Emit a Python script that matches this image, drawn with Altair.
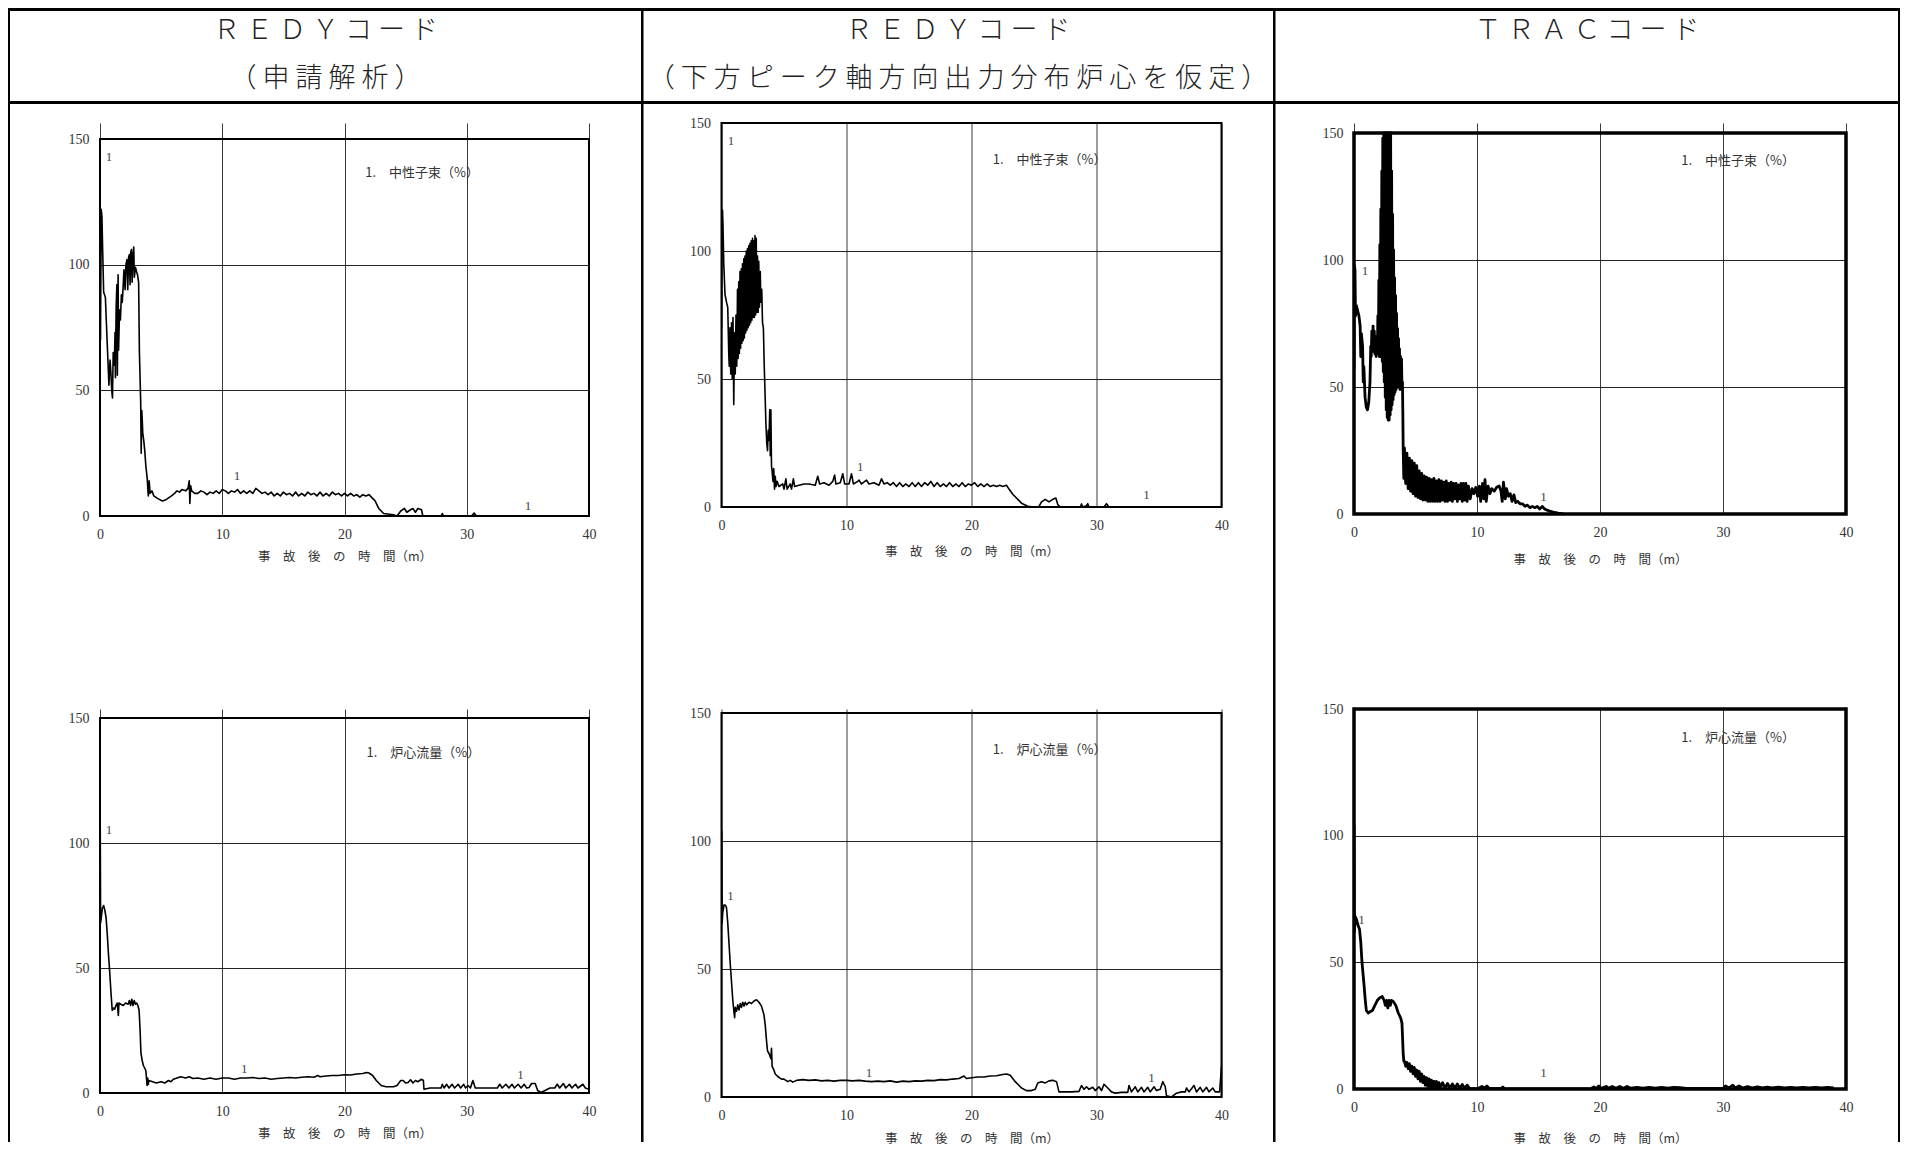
import altair as alt
import pandas as pd

# ---------------- text ----------------
HEADER_COLS = [
    ["ＲＥＤＹコード", "（申請解析）"],
    ["ＲＥＤＹコード", "（下方ピーク軸方向出力分布炉心を仮定）"],
    ["ＴＲＡＣコード"],
]
X_TITLE = "事　故　後　の　時　間（m）"
X_TICKS = [0, 10, 20, 30, 40]
Y_TICKS = [0, 50, 100, 150]
LEGEND_FLUX = "1.　中性子束（%）"
LEGEND_FLOW = "1.　炉心流量（%）"

# ---------------- data (time [min], value [%]) ----------------
REDY_A_FLUX = [
    (0, 100), (0.04, 70), (0.1, 122), (0.16, 119), (0.22, 105), (0.3, 89), (0.44, 87), (0.58, 70),
    (0.73, 52), (0.82, 62), (0.88, 58), (0.96, 50), (1.02, 47), (1.08, 65), (1.17, 60), (1.23, 73),
    (1.26, 55), (1.32, 83), (1.38, 92), (1.42, 56), (1.48, 96), (1.52, 66), (1.6, 82), (1.67, 78),
    (1.75, 88), (1.82, 85), (1.9, 92), (1.96, 98), (2.05, 90), (2.12, 100), (2.2, 102), (2.27, 90),
    (2.34, 103), (2.4, 104), (2.46, 92), (2.52, 105), (2.57, 106), (2.63, 93), (2.7, 104), (2.76, 107),
    (2.81, 95), (2.9, 99), (3.0, 97), (3.07, 96), (3.16, 93), (3.22, 66), (3.33, 45), (3.37, 25),
    (3.42, 42), (3.5, 33), (3.58, 30), (3.66, 26), (3.75, 20), (3.86, 15), (3.95, 8), (4.02, 14),
    (4.1, 9), (4.25, 10), (4.4, 8), (4.7, 7), (5.1, 6), (5.4, 6.5), (5.85, 8), (6.1, 9), (6.3, 10),
    (6.5, 9.5), (6.7, 10.5), (7.0, 10), (7.2, 11), (7.3, 14), (7.35, 5), (7.42, 12), (7.5, 10),
    (7.75, 9), (8.0, 9), (8.25, 10), (8.5, 9.5), (8.75, 8.5), (9.0, 9.5), (9.25, 9), (9.5, 10),
    (9.75, 9), (10.0, 10.5), (10.25, 10), (10.5, 9), (10.75, 10), (11.0, 9.5), (11.25, 10.5),
    (11.5, 9), (11.75, 10), (12.0, 9), (12.25, 10), (12.5, 9), (12.75, 11), (13.0, 10), (13.25, 9),
    (13.5, 9.5), (13.75, 8.5), (14.0, 9.5), (14.25, 8), (14.5, 9), (14.75, 8), (15.0, 9.5),
    (15.25, 8.5), (15.5, 9), (15.75, 8), (16.0, 9.5), (16.25, 8), (16.5, 9), (16.75, 8), (17.0, 9.5),
    (17.25, 8.5), (17.5, 9), (17.75, 8), (18.0, 9.5), (18.25, 8), (18.5, 9), (18.75, 8), (19.0, 9.5),
    (19.25, 8.5), (19.5, 9), (19.75, 8), (20.0, 9), (20.25, 8), (20.5, 9), (20.75, 8), (21.0, 8.5),
    (21.25, 7.5), (21.5, 8.5), (21.75, 8), (22.0, 8.5), (22.2, 7.5), (22.5, 6), (22.8, 3), (23.2, 1),
    (24.0, 0.5), (24.3, 0), (24.6, 2), (24.9, 3), (25.1, 1.5), (25.4, 2.5), (25.6, 3), (25.8, 1.5),
    (26.0, 3), (26.3, 2.5), (26.4, 0.2), (26.5, 0), (27.9, 0), (28.0, 1), (28.1, 0), (30.4, 0),
    (30.6, 1.2), (30.8, 0),
]

REDY_B_FLUX = [
    (0, 70), (0.03, 100), (0.08, 116), (0.12, 110), (0.18, 95), (0.28, 83), (0.4, 80), (0.5, 78),
    (0.58, 60), (0.62, 55), (0.68, 70), (0.74, 52), (0.8, 72), (0.86, 50), (0.92, 74), (0.98, 40),
    (1.04, 68), (1.1, 52), (1.16, 75), (1.22, 55), (1.28, 85), (1.33, 58), (1.38, 88), (1.43, 60),
    (1.48, 92), (1.53, 62), (1.58, 93), (1.63, 64), (1.68, 95), (1.73, 65), (1.78, 97), (1.83, 66),
    (1.88, 98), (1.93, 68), (1.98, 100), (2.03, 69), (2.08, 101), (2.13, 70), (2.18, 102), (2.23, 71),
    (2.28, 103), (2.33, 72), (2.38, 104), (2.43, 73), (2.48, 105), (2.53, 74), (2.58, 104), (2.63, 74),
    (2.68, 106), (2.73, 75), (2.78, 105), (2.83, 76), (2.88, 98), (2.93, 76), (2.98, 96), (3.03, 78),
    (3.1, 92), (3.15, 80), (3.22, 85), (3.28, 72), (3.35, 70), (3.42, 55), (3.48, 45), (3.55, 33),
    (3.62, 25), (3.68, 22), (3.74, 30), (3.8, 26), (3.86, 38), (3.9, 20), (3.95, 38), (4.0, 16),
    (4.05, 14), (4.12, 10), (4.18, 15), (4.24, 7), (4.3, 12), (4.36, 8), (4.45, 10), (4.6, 8),
    (4.9, 9), (5.0, 7), (5.15, 11), (5.25, 7), (5.5, 9), (5.6, 7), (5.75, 11), (5.85, 8), (6.2, 8.5),
    (6.6, 9), (7.0, 9), (7.5, 8.5), (7.7, 12), (7.85, 9), (8.2, 9.5), (8.6, 8.5), (8.9, 10),
    (9.05, 12.5), (9.15, 9), (9.5, 9.5), (9.7, 13), (9.85, 9), (10.2, 9), (10.4, 13), (10.55, 9),
    (10.9, 10), (11.0, 10.5), (11.2, 9), (11.6, 10.5), (11.8, 9), (12.2, 9.5), (12.6, 8.5), (12.8, 11),
    (13.0, 9), (13.25, 9.5), (13.5, 8.5), (13.75, 9.5), (14.0, 8), (14.25, 9.5), (14.5, 8), (14.75, 9),
    (15.0, 8), (15.25, 9.5), (15.5, 8), (15.75, 9.5), (16.0, 8), (16.25, 9.5), (16.5, 8.5), (16.75, 10),
    (17.0, 8), (17.25, 9.5), (17.5, 8), (17.75, 9), (18.0, 8), (18.25, 9.5), (18.5, 8), (18.75, 9),
    (19.0, 8), (19.25, 9.5), (19.5, 8), (19.75, 9), (20.0, 8.5), (20.25, 9.5), (20.5, 8), (20.75, 9),
    (21.0, 8), (21.25, 9), (21.5, 8), (21.75, 8.5), (22.0, 8), (22.25, 8.5), (22.5, 8), (22.8, 8.5),
    (23.0, 7), (23.3, 5), (23.6, 3.5), (24.0, 1.5), (24.5, 0.3), (25.0, 0), (25.4, 0.2), (25.6, 2),
    (25.9, 3), (26.2, 2), (26.5, 3), (26.75, 3.5), (26.9, 1), (27.1, 0), (28.7, 0), (28.8, 1.2),
    (28.9, 0), (29.2, 0.5), (29.3, 1.3), (29.4, 0), (30.6, 0), (30.8, 1.3), (31.0, 0),
]

TRAC_FLUX = [
    (0, 57), (0.03, 98), (0.08, 96), (0.12, 78), (0.2, 82), (0.3, 80), (0.4, 78), (0.5, 74),
    (0.55, 62), (0.6, 71), (0.7, 66), (0.75, 52), (0.8, 58), (0.9, 46), (1.0, 42), (1.1, 41),
    (1.2, 44), (1.3, 52), (1.36, 66), (1.4, 62), (1.45, 72), (1.5, 64), (1.55, 74), (1.6, 65),
    (1.65, 72), (1.7, 63), (1.75, 70), (1.8, 62), (1.85, 68), (1.9, 64), (1.94, 78), (1.98, 63),
    (2.02, 92), (2.06, 62), (2.1, 106), (2.14, 62), (2.18, 120), (2.22, 62), (2.26, 135), (2.3, 60),
    (2.34, 148), (2.38, 56), (2.42, 150), (2.46, 52), (2.5, 150), (2.54, 46), (2.58, 150), (2.62, 41),
    (2.66, 150), (2.7, 38), (2.74, 150), (2.78, 37), (2.82, 150), (2.86, 37), (2.9, 150), (2.94, 39),
    (2.98, 150), (3.02, 41), (3.06, 135), (3.1, 43), (3.14, 118), (3.18, 45), (3.22, 104), (3.26, 47),
    (3.3, 93), (3.34, 48), (3.38, 86), (3.42, 49), (3.46, 79), (3.5, 50), (3.54, 73), (3.58, 50),
    (3.62, 69), (3.66, 50), (3.7, 65), (3.74, 49), (3.78, 62), (3.82, 50), (3.86, 61), (3.9, 50),
    (3.94, 52), (3.97, 40), (4.0, 25), (4.05, 14), (4.1, 26), (4.2, 12), (4.3, 24),
    (4.4, 10), (4.5, 22), (4.6, 9), (4.7, 21), (4.8, 8), (4.9, 20), (5.0, 7), (5.1, 19), (5.2, 6.5),
    (5.3, 17), (5.4, 6), (5.5, 16), (5.6, 5.5), (5.7, 15), (5.8, 5.5), (5.9, 14.5), (6.0, 5),
    (6.1, 14), (6.2, 5), (6.3, 13.5), (6.4, 5), (6.5, 14), (6.6, 5), (6.7, 13), (6.8, 5), (6.9, 13.5),
    (7.0, 5), (7.1, 13), (7.2, 5.5), (7.3, 12.5), (7.4, 5), (7.5, 13), (7.6, 5), (7.7, 12), (7.8, 5.5),
    (7.9, 12.5), (8.0, 5), (8.1, 12), (8.2, 6), (8.3, 12), (8.4, 5), (8.5, 11.5), (8.6, 6), (8.7, 12),
    (8.8, 5), (8.9, 12), (9.0, 5.5), (9.1, 12), (9.2, 5), (9.3, 11), (9.45, 6), (9.6, 10), (9.75, 8),
    (9.9, 10.5), (10.05, 7), (10.2, 11), (10.3, 5), (10.45, 12), (10.55, 6), (10.65, 13.5),
    (10.75, 5), (10.9, 11), (11.05, 8), (11.2, 10), (11.4, 9), (11.6, 10.5), (11.8, 11), (11.95, 9),
    (12.05, 5), (12.15, 12.5), (12.3, 6), (12.4, 10), (12.55, 7), (12.7, 8), (12.85, 5), (13.0, 7.5),
    (13.15, 4.5), (13.3, 5), (13.5, 4), (13.7, 4), (13.9, 3), (14.1, 3.5), (14.3, 2.5), (14.5, 3),
    (14.7, 2.5), (14.9, 3), (15.1, 2), (15.3, 3), (15.5, 2), (15.7, 1.5), (16.0, 1), (16.3, 0.6),
    (16.6, 0.3), (17.0, 0),
]

REDY_A_FLOW = [
    (0, 100), (0.02, 106), (0.05, 68), (0.1, 70), (0.2, 74), (0.3, 75), (0.4, 73), (0.5, 70),
    (0.6, 63), (0.7, 55), (0.8, 48), (0.9, 40), (1.0, 33), (1.1, 34), (1.2, 33.5), (1.3, 35),
    (1.4, 36), (1.45, 34), (1.5, 31), (1.55, 36), (1.7, 35.5), (1.9, 35), (2.1, 36), (2.3, 35.5),
    (2.4, 37), (2.5, 35), (2.6, 37.5), (2.7, 35), (2.8, 37), (2.9, 35.5), (3.0, 36), (3.1, 35),
    (3.2, 33), (3.28, 25), (3.35, 16), (3.45, 13), (3.55, 11), (3.65, 10), (3.75, 9), (3.8, 6),
    (3.85, 3), (3.9, 6), (3.95, 3.5), (4.0, 5), (4.3, 4.5), (4.6, 4), (5.0, 4.5), (5.3, 4), (5.6, 5),
    (5.8, 4.5), (6.0, 5.5), (6.3, 6), (6.6, 6.5), (7.0, 6), (7.3, 6.5), (7.6, 5.8), (8.0, 6),
    (8.5, 5.5), (9.0, 6), (9.5, 5.5), (10.0, 6), (10.5, 6), (11.0, 5.5), (11.5, 6), (12.0, 6),
    (12.5, 6.2), (13.0, 5.8), (13.5, 6), (14.0, 5.5), (14.5, 5.8), (15.0, 6), (15.5, 6.2), (16.0, 6),
    (16.5, 6.3), (17.0, 6.5), (17.5, 6.3), (17.8, 7), (18.0, 6.5), (18.5, 6.8), (19.0, 7), (19.5, 7),
    (20.0, 7.3), (20.5, 7.2), (21.0, 7.6), (21.5, 7.8), (21.8, 8.2), (22.0, 8), (22.3, 7), (22.6, 5),
    (23.0, 3), (23.4, 2.5), (24.0, 2.5), (24.3, 3), (24.6, 5), (24.8, 5), (25.0, 4), (25.2, 4.2),
    (25.4, 5.3), (25.6, 4), (25.8, 5), (26.0, 4.5), (26.3, 5.5), (26.45, 5), (26.5, 1.5), (27.0, 2),
    (27.5, 2), (27.9, 2), (28.0, 3.5), (28.15, 2), (28.35, 3.5), (28.55, 2), (28.8, 3.5), (29.0, 2),
    (29.3, 3.5), (29.5, 2), (29.75, 3.5), (29.9, 2), (30.1, 3), (30.3, 2), (30.5, 5), (30.7, 2),
    (31.0, 2), (32.0, 2), (32.5, 2), (32.7, 3.5), (32.9, 2), (33.2, 3.5), (33.45, 2), (33.7, 3.5),
    (33.9, 2), (34.2, 3.5), (34.45, 2), (34.7, 3.5), (34.9, 2), (35.1, 2.2), (35.3, 3.8), (35.6, 3.8),
    (35.8, 1), (36.1, 0.2), (36.4, 1), (36.8, 2), (37.2, 2), (37.4, 3.5), (37.6, 2), (37.9, 3.8),
    (38.1, 2), (38.4, 3.5), (38.6, 2), (38.9, 3.5), (39.1, 2), (39.5, 3.5), (39.7, 2), (40, 1.5),
]

REDY_B_FLOW = [
    (0, 68), (0.02, 104), (0.05, 68), (0.1, 72), (0.2, 75), (0.3, 75), (0.4, 74), (0.5, 68),
    (0.6, 60), (0.7, 52), (0.8, 45), (0.9, 38), (1.0, 33), (1.05, 31), (1.1, 35), (1.2, 33.5),
    (1.3, 36), (1.4, 34), (1.5, 36.5), (1.6, 35), (1.7, 37), (1.8, 35.5), (1.9, 37), (2.0, 36),
    (2.2, 37), (2.4, 36.5), (2.6, 37.5), (2.8, 38), (3.0, 37), (3.2, 35.5), (3.4, 32), (3.5, 28),
    (3.6, 22), (3.68, 18), (3.8, 17), (3.95, 15), (4.0, 19), (4.05, 12), (4.15, 11), (4.3, 9),
    (4.5, 8), (4.8, 7), (5.0, 7), (5.3, 6), (5.5, 6.5), (5.7, 5.8), (6.0, 6.5), (6.5, 6.8), (7.0, 6.5),
    (7.5, 6.7), (8.0, 6.3), (8.5, 6.5), (9.0, 6.2), (9.5, 6.5), (10.0, 6.5), (10.5, 6.3), (11.0, 6.5),
    (11.5, 6.2), (12.0, 6), (12.5, 6.2), (13.0, 6), (13.5, 6.3), (14.0, 5.8), (14.5, 6.2), (15.0, 6),
    (15.5, 6.3), (16.0, 6.2), (16.5, 6.5), (17.0, 6.4), (17.5, 6.8), (18.0, 6.7), (18.5, 7), (19.0, 7.2),
    (19.4, 8.2), (19.6, 7.2), (20.0, 7.5), (20.5, 7.8), (21.0, 7.8), (21.5, 8.2), (22.0, 8.3),
    (22.5, 8.8), (22.8, 9), (23.1, 8.5), (23.5, 6), (24.0, 3.5), (24.4, 2.5), (24.8, 2.5), (25.1, 3),
    (25.3, 5.5), (25.6, 6), (25.9, 5.5), (26.2, 6.3), (26.5, 6.5), (26.8, 6), (27.0, 2), (27.5, 2),
    (28.0, 2), (28.6, 2.2), (28.8, 4.5), (29.0, 3), (29.2, 4), (29.4, 3), (29.7, 3.8), (29.9, 2.5),
    (30.2, 4), (30.4, 2.5), (30.6, 5), (30.9, 3.5), (31.2, 2), (31.5, 1.5), (32.0, 1.8), (32.5, 1.8),
    (32.6, 4.5), (32.8, 2), (33.1, 4), (33.3, 2), (33.6, 3.8), (33.8, 2), (34.1, 3.8), (34.3, 2),
    (34.6, 4), (34.8, 2.5), (35.1, 3), (35.3, 6), (35.5, 4), (35.6, 0.5), (36.0, 0), (36.4, 1.5),
    (36.8, 2), (37.1, 2), (37.2, 3.5), (37.4, 2), (37.8, 4.5), (38.0, 2), (38.3, 3.8), (38.5, 2),
    (38.8, 3.8), (39.0, 2), (39.3, 3.5), (39.5, 2), (39.85, 2), (40, 12),
]

TRAC_FLOW = [
    (0, 104), (0.03, 62), (0.1, 68), (0.2, 67), (0.3, 65), (0.45, 63), (0.55, 58), (0.65, 50),
    (0.8, 42), (0.9, 36), (1.0, 31), (1.15, 30), (1.3, 30.5), (1.5, 31), (1.7, 33), (1.9, 35),
    (2.1, 36), (2.3, 36.5), (2.45, 35), (2.55, 33), (2.65, 35), (2.75, 32), (2.85, 35), (2.95, 33),
    (3.05, 35), (3.2, 34.5), (3.4, 33), (3.6, 30), (3.8, 28), (3.9, 26), (3.95, 20), (4.0, 14),
    (4.05, 11), (4.1, 11), (4.2, 9), (4.3, 10.5), (4.4, 8), (4.5, 10), (4.6, 7), (4.7, 9), (4.8, 6),
    (4.9, 8.5), (5.0, 5), (5.1, 7.5), (5.2, 4), (5.3, 7), (5.4, 3), (5.5, 6), (5.6, 2.5), (5.7, 5),
    (5.8, 1.5), (5.9, 4.5), (6.0, 1), (6.1, 4), (6.2, 0.8), (6.3, 3.5), (6.4, 0.5), (6.5, 3),
    (6.6, 0.5), (6.7, 3), (6.8, 0.3), (6.9, 2.5), (7.0, 0.3), (7.2, 2.5), (7.4, 0.3), (7.6, 2.2),
    (7.8, 0.3), (8.0, 2), (8.2, 0.3), (8.4, 2), (8.6, 0.2), (8.8, 1.8), (9.0, 0.2), (9.2, 1.5),
    (9.4, 0.2), (10.0, 0), (10.4, 1), (10.6, 0.3), (10.8, 1.2), (11.0, 0.2), (12.0, 0.2), (12.1, 0.8),
    (12.3, 0), (19.2, 0), (19.5, 0.8), (19.7, 0.2), (19.9, 1.2), (20.1, 0.3), (20.5, 1), (20.7, 0.3),
    (21.0, 1), (21.3, 0.3), (21.6, 1), (21.9, 0.3), (22.2, 1), (22.5, 0.3), (23.0, 0.6), (23.5, 0.3),
    (24.0, 0.6), (24.5, 0.3), (25.0, 0.6), (25.5, 0.3), (26.0, 0.6), (26.5, 0.5), (27.0, 0.2),
    (30.0, 0.2), (30.2, 1.2), (30.5, 0.4), (30.8, 1.5), (31.0, 0.4), (31.3, 1.2), (31.6, 0.4),
    (32.0, 1), (32.4, 0.4), (32.8, 0.8), (33.2, 0.4), (33.6, 0.7), (34.0, 0.4), (34.5, 0.7),
    (35.0, 0.4), (35.5, 0.6), (36.0, 0.4), (36.5, 0.6), (37.0, 0.4), (37.5, 0.6), (38.0, 0.4),
    (38.5, 0.6), (39.0, 0.4),
]

# legend anchors (t, v) and curve-number marks
LEGEND_POS = [(21.7, 136.5), (21.7, 135.6), (26.6, 138.8), (21.8, 136), (21.7, 135.4), (26.6, 138.7)]
CURVE_MARKS = [
    [(0.73, 142.7), (11.2, 15.9), (35.0, 4.1)],
    [(0.75, 142.8), (11.1, 15.7), (34.0, 4.6)],
    [(0.9, 95.8), (15.4, 6.6)],
    [(0.73, 105.3), (11.8, 9.6), (34.4, 7.3)],
    [(0.72, 78.4), (11.8, 9.4), (34.4, 7.6)],
    [(0.6, 66.8), (15.4, 6.3)],
]

SERIF = "Liberation Serif"
CJK = "Noto Sans CJK JP"


def panel(series, legend, legend_pos, marks, width, view_h, plot_h, line_w, frame_w, title_pad):
    ytop = 150 * view_h / plot_h
    xs = alt.Scale(domain=[0, 40], nice=False, zero=False)
    ys = alt.Scale(domain=[0, ytop], nice=False, zero=False)
    xax = alt.Axis(values=X_TICKS, grid=True, ticks=False, domain=False, labelFlush=False,
                   labelOverlap=False, labelFont=SERIF, labelFontSize=14, labelColor="#333",
                   labelPadding=11, title=X_TITLE, titleFont=CJK, titleFontSize=12.5,
                   titleFontWeight="normal", titleColor="#333", titlePadding=title_pad,
                   gridColor="#3a3a3a", gridWidth=1)
    yax = alt.Axis(values=Y_TICKS, grid=True, ticks=False, domain=False, labelFont=SERIF,
                   labelFontSize=14, labelColor="#333", labelPadding=11, title=None,
                   gridColor="#222", gridWidth=1.2)
    X = alt.X("t:Q", scale=xs, axis=xax)
    Y = alt.Y("v:Q", scale=ys, axis=yax)

    df = pd.DataFrame(series, columns=["t", "v"])
    line = alt.Chart(df).mark_line(color="black", strokeWidth=line_w, strokeJoin="round",
                                   clip=True).encode(x=X, y=Y)
    frame = alt.Chart(pd.DataFrame({"t": [0], "t2": [40], "v": [0], "v2": [150]})).mark_rect(
        fillOpacity=0, stroke="black", strokeWidth=frame_w).encode(x=X, x2="t2", y=Y, y2="v2")
    leg = alt.Chart(pd.DataFrame({"t": [legend_pos[0]], "v": [legend_pos[1]], "s": [legend]})).mark_text(
        align="left", baseline="middle", font=CJK, fontSize=13, color="#333").encode(x=X, y=Y, text="s:N")
    mk = alt.Chart(pd.DataFrame(marks, columns=["t", "v"]).assign(s="1")).mark_text(
        align="center", baseline="middle", font=SERIF, fontSize=13, color="#444").encode(x=X, y=Y, text="s:N")
    return [line, frame, leg, mk], width, view_h


def table_layers():
    # table frame drawn as filled bars; pixels relative to the top-left panel's view
    layers = []
    d = pd.DataFrame({"a": [0]})
    top, bottom = -115, 1019
    right = 1800
    bars = [
        (-92, right, top, top + 3),         # top border
        (-92, right, -22, -19),             # header bottom line
        (-92, -90, top, bottom),            # left border
        (541, 543.5, top, bottom),          # column divider 1
        (1173, 1175.5, top, bottom),        # column divider 2
        (right - 2, right, top, bottom),    # right border
    ]
    for x1, x2, y1, y2 in bars:
        layers.append(alt.Chart(d).mark_rect(color="black", strokeWidth=0).encode(
            x=alt.value(x1), x2=alt.value(x2), y=alt.value(y1), y2=alt.value(y2)))
    centers = [225.5, 858, 1487]
    for cx, lines in zip(centers, HEADER_COLS):
        for i, txt in enumerate(lines):
            spaced = " ".join(list(txt))
            layers.append(alt.Chart(d).mark_text(
                text=spaced, font=CJK, fontSize=27, fontWeight=300, color="#222",
                align="center", baseline="middle"
            ).encode(x=alt.value(cx), y=alt.value(-92 + 48 * i)))
    return layers


specs = [
    (REDY_A_FLUX, LEGEND_FLUX, 489, 393, 377, 1.6, 2, 9),
    (REDY_B_FLUX, LEGEND_FLUX, 500, 384, 384, 1.6, 2, 13),
    (TRAC_FLUX, LEGEND_FLUX, 492, 391, 381, 2.8, 3.5, 14),
    (REDY_A_FLOW, LEGEND_FLOW, 489, 384, 375, 1.6, 2, 9),
    (REDY_B_FLOW, LEGEND_FLOW, 500, 388, 384, 1.6, 2, 10),
    (TRAC_FLOW, LEGEND_FLOW, 492, 380, 380, 2.8, 3.5, 18),
]

charts = []
for i, (ser, leg, w, vh, ph, lw, fw, tp) in enumerate(specs):
    layers, width, height = panel(ser, leg, LEGEND_POS[i], CURVE_MARKS[i], w, vh, ph, lw, fw, tp)
    if i == 0:
        layers = layers + table_layers()
    charts.append(alt.layer(*layers).properties(width=width, height=height))

chart = alt.concat(
    *charts, columns=3, spacing={"row": 193, "column": 132.5}, bounds="flush", align="each"
).properties(padding=0, background="white").configure_view(stroke=None)

chart.save("out.html", embed_options={"renderer": "svg", "actions": False})
